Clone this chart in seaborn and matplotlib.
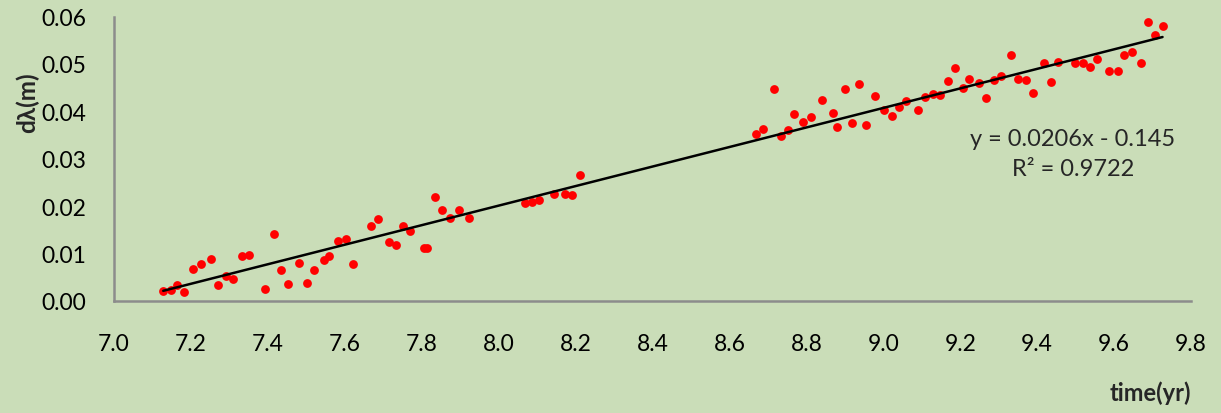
import numpy as np
import pandas as pd
import matplotlib
matplotlib.use("Agg")
import matplotlib.pyplot as plt
import seaborn as sns

# ---- data ----
time_yr = [7.128, 7.148, 7.165, 7.181, 7.206, 7.225, 7.252, 7.271, 7.291, 7.310,
           7.332, 7.352, 7.393, 7.417, 7.433, 7.453, 7.480, 7.502, 7.521, 7.545,
           7.560, 7.583, 7.603, 7.622, 7.669, 7.686, 7.716, 7.732, 7.751, 7.770,
           7.807, 7.815, 7.835, 7.853, 7.874, 7.896, 7.924,
           8.069, 8.088, 8.104, 8.143, 8.172, 8.192, 8.211,
           8.669, 8.688, 8.715, 8.735, 8.752, 8.768, 8.790, 8.811, 8.841, 8.869,
           8.880, 8.901, 8.918, 8.937, 8.956, 8.978, 9.003, 9.022, 9.041, 9.060,
           9.090, 9.109, 9.129, 9.148, 9.167, 9.186, 9.206, 9.224, 9.249, 9.268,
           9.287, 9.307, 9.331, 9.351, 9.370, 9.389, 9.417, 9.435, 9.454, 9.499,
           9.518, 9.538, 9.556, 9.588, 9.609, 9.627, 9.647, 9.669, 9.688, 9.707,
           9.726]
d_lambda = [0.00217, 0.00238, 0.00337, 0.00190, 0.00675, 0.00780, 0.00886, 0.00337, 0.00534, 0.00464,
            0.00956, 0.00977, 0.00246, 0.01406, 0.00654, 0.00365, 0.00795, 0.00373, 0.00654, 0.00871,
            0.00949, 0.01270, 0.01307, 0.00780, 0.01588, 0.01723, 0.01237, 0.01181, 0.01575, 0.01483,
            0.01118, 0.01111, 0.02200, 0.01919, 0.01744, 0.01913, 0.01750,
            0.02067, 0.02094, 0.02123, 0.02256, 0.02263, 0.02235, 0.02657,
            0.03515, 0.03620, 0.04477, 0.03480, 0.03613, 0.03937, 0.03775, 0.03880, 0.04245, 0.03965,
            0.03676, 0.04464, 0.03754, 0.04570, 0.03705, 0.04323, 0.04021, 0.03895, 0.04097, 0.04224,
            0.04034, 0.04308, 0.04359, 0.04344, 0.04646, 0.04920, 0.04492, 0.04675, 0.04597, 0.04287,
            0.04667, 0.04751, 0.05181, 0.04682, 0.04654, 0.04380, 0.05025, 0.04625, 0.05040, 0.05019,
            0.05019, 0.04928, 0.05110, 0.04857, 0.04844, 0.05188, 0.05257, 0.05019, 0.05877, 0.05610,
            0.05806]

x_ticks = [7.0, 7.2, 7.4, 7.6, 7.8, 8.0, 8.2, 8.4, 8.6, 8.8, 9.0, 9.2, 9.4, 9.6, 9.8]
y_ticks = [0.00, 0.01, 0.02, 0.03, 0.04, 0.05, 0.06]
eq_text = "y = 0.0206x - 0.145"
r2_text = "R² = 0.9722"
x_label = "time(yr)"
y_label = "dλ(m)"

df = pd.DataFrame({"time": time_yr, "dl": d_lambda})

bg = "#CADDB8"
axis_gray = "#8C8C8C"

sns.set_theme(style="white")
plt.rcParams["font.family"] = ["Lato", "DejaVu Sans"]

fig = plt.figure(figsize=(12.21, 4.14), dpi=100, facecolor=bg)
ax = fig.add_axes([114 / 1221, 1 - 302 / 414, (1191 - 114) / 1221, (302 - 17.5) / 414])
ax.set_facecolor(bg)

sns.regplot(data=df, x="time", y="dl", ax=ax, ci=None, truncate=True,
            scatter_kws={"s": 40, "color": "#FF0000", "linewidths": 0, "alpha": 1, "zorder": 3},
            line_kws={"color": "black", "lw": 1.8, "zorder": 4})

ax.set_xlim(7.0, 9.8)
ax.set_ylim(0.0, 0.06)
ax.set_xticks(x_ticks)
ax.set_xticklabels([f"{v:.1f}" for v in x_ticks])
ax.set_yticks(y_ticks)
ax.set_yticklabels([f"{v:.2f}" for v in y_ticks])
ax.set_xlabel("")
ax.set_ylabel("")

for s in ["top", "right"]:
    ax.spines[s].set_visible(False)
for s in ["left", "bottom"]:
    ax.spines[s].set_color(axis_gray)
    ax.spines[s].set_linewidth(1.8)
ax.tick_params(axis="both", which="major", direction="out", length=6, width=1.8,
               color=axis_gray, labelsize=16.5, labelcolor="black", pad=14)
ax.tick_params(axis="x", pad=17)

fig.text(1110 / 1221, 1 - 393 / 414, x_label, ha="left", va="center",
         fontsize=17, fontweight="bold")
fig.text(27 / 1221, 1 - 103 / 414, y_label, ha="center", va="center",
         rotation=90, fontsize=17.5, fontweight="bold")

ax.text(1073 / 1221, 1 - 140 / 414, eq_text, transform=fig.transFigure,
        ha="center", va="center", fontsize=17)
ax.text(1073 / 1221, 1 - 170 / 414, r2_text, transform=fig.transFigure,
        ha="center", va="center", fontsize=17)

fig.savefig("out.png", dpi=100, facecolor=bg)
